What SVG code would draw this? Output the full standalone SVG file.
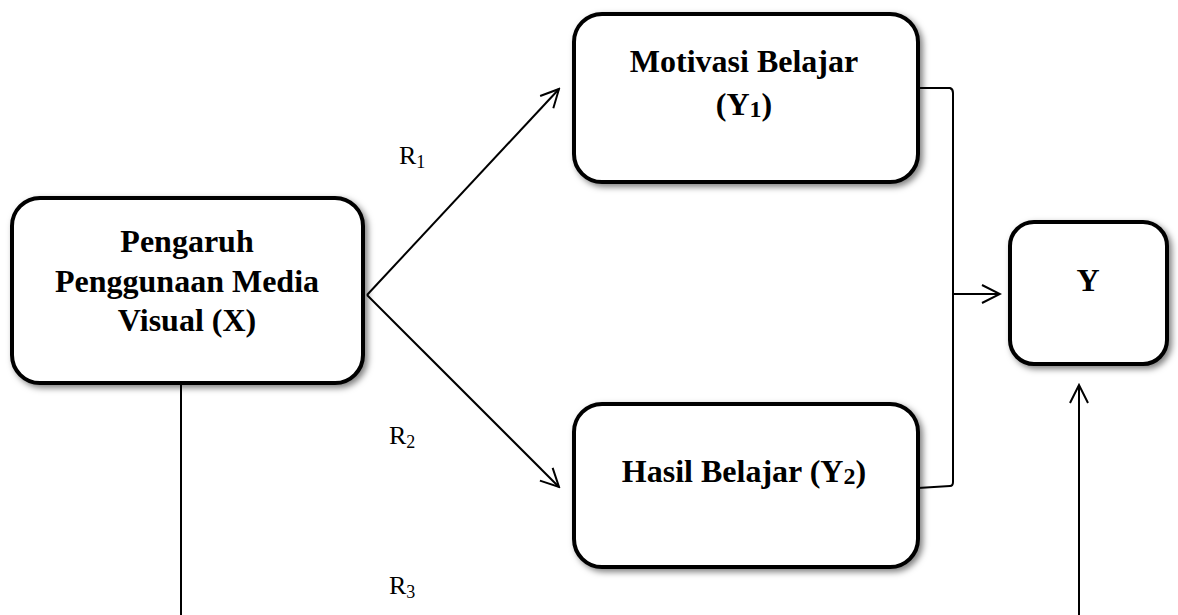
<svg xmlns="http://www.w3.org/2000/svg" width="1178" height="615" viewBox="0 0 1178 615">
<style>
.box{fill:#fff;stroke:#000;stroke-width:4;filter:url(#sh)}
.t{font-family:"Liberation Serif","Times New Roman",serif;font-weight:bold;font-size:32px;text-anchor:middle;fill:#000}
.r{font-family:"Liberation Serif","Times New Roman",serif;font-size:26px;fill:#000}
.ln{fill:none;stroke:#000;stroke-width:2}
</style>
<defs>
<filter id="sh" x="-10%" y="-10%" width="125%" height="125%">
<feDropShadow dx="3" dy="3" stdDeviation="3" flood-color="#000" flood-opacity="0.5"/>
</filter>
<marker id="ah" viewBox="0 0 22 22" refX="20" refY="11" markerWidth="22" markerHeight="22" markerUnits="userSpaceOnUse" orient="auto">
<path d="M2,2 L20,11 L2,20" fill="none" stroke="#000" stroke-width="2"/>
</marker>
</defs>
<g id="connectors">
<line class="ln" x1="367" y1="295" x2="559" y2="89" marker-end="url(#ah)"/>
<line class="ln" x1="367" y1="295" x2="559" y2="487" marker-end="url(#ah)"/>
<path class="ln" d="M918,88 L950,88 Q953,89 953,93 L953,482 Q953,486 950,486 L918,488"/>
<line class="ln" x1="953" y1="294" x2="1000" y2="294" marker-end="url(#ah)"/>
<line class="ln" x1="1079" y1="615" x2="1079" y2="385" marker-end="url(#ah)"/>
<line class="ln" x1="181" y1="384" x2="181" y2="615"/>
</g>
<g id="node-x">
<rect class="box" x="12" y="198" width="351" height="185" rx="28"/>
<text class="t" x="187" y="252">Pengaruh</text>
<text class="t" x="187" y="292">Penggunaan Media</text>
<text class="t" x="187" y="331">Visual (X)</text>
</g>
<g id="node-y1">
<rect class="box" x="574" y="14" width="344" height="168" rx="28"/>
<text class="t" x="744" y="72">Motivasi Belajar</text>
<text class="t" x="744" y="115">(Y<tspan font-size="24" dy="2">1</tspan><tspan dy="-2">)</tspan></text>
</g>
<g id="node-y2">
<rect class="box" x="574" y="404" width="344" height="163" rx="28"/>
<text class="t" x="744" y="482">Hasil Belajar (Y<tspan font-size="24" dy="2">2</tspan><tspan dy="-2">)</tspan></text>
</g>
<g id="node-y">
<rect class="box" x="1010" y="222" width="157" height="142" rx="24"/>
<text class="t" x="1088" y="291">Y</text>
</g>
<g id="labels">
<text class="r" x="399" y="164">R<tspan font-size="18" dy="4">1</tspan></text>
<text class="r" x="389" y="444">R<tspan font-size="18" dy="4">2</tspan></text>
<text class="r" x="389" y="594">R<tspan font-size="18" dy="4">3</tspan></text>
</g>
</svg>
